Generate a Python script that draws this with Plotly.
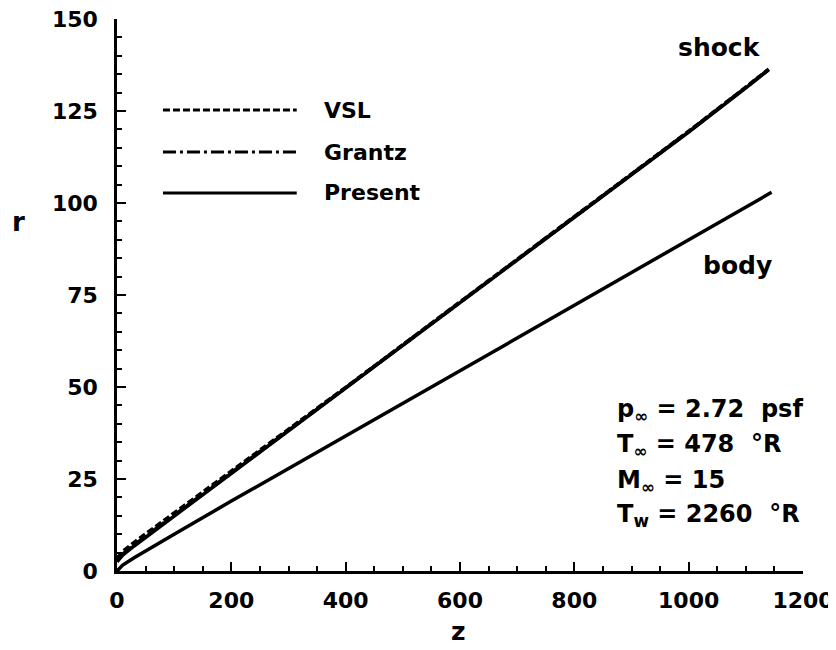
import plotly.graph_objects as go

# ---- data ----
z_shock = [0, 10, 30, 60, 100, 200, 300, 400, 500, 600, 700, 800, 900, 1000, 1100, 1140]
r_shock_present = [2.5, 4.3, 6.8, 10.3, 14.9, 26.5, 38.1, 49.7, 61.3, 72.9, 84.4, 96.0, 107.6, 119.3, 131.3, 136.2]
r_shock_vsl = [3.5, 5.3, 7.8, 11.2, 15.6, 27.0, 38.4, 49.9, 61.5, 73.1, 84.6, 96.2, 107.8, 119.5, 131.5, 136.4]
r_shock_grantz = [2.8, 4.6, 7.1, 10.6, 15.1, 26.7, 38.2, 49.8, 61.4, 73.0, 84.5, 96.1, 107.7, 119.4, 131.4, 136.3]

z_body = [0, 10, 30, 60, 100, 200, 300, 400, 500, 600, 700, 800, 900, 1000, 1100, 1145]
r_body = [0.0, 1.6, 3.6, 6.4, 10.0, 19.0, 27.8, 36.7, 45.5, 54.4, 63.3, 72.2, 81.0, 89.9, 98.8, 102.9]

legend_names = ["VSL", "Grantz", "Present"]
x_ticks = [0, 200, 400, 600, 800, 1000, 1200]
y_ticks = [0, 25, 50, 75, 100, 125, 150]
params = ["p<sub>∞</sub> = 2.72  psf", "T<sub>∞</sub> = 478  °R", "M<sub>∞</sub> = 15", "T<sub>w</sub> = 2260  °R"]

FONT = "DejaVu Sans"
W = 3.5
DASHES = {"VSL": "7px,3px", "Grantz": "13px,4px,3px,4px", "Present": "solid"}

fig = go.Figure()
fig.add_trace(go.Scatter(x=z_body, y=r_body, mode="lines", line=dict(color="black", width=W), showlegend=False))
fig.add_trace(go.Scatter(x=z_shock, y=r_shock_present, mode="lines", line=dict(color="black", width=W), showlegend=False))
fig.add_trace(go.Scatter(x=z_shock, y=r_shock_grantz, mode="lines",
                         line=dict(color="black", width=W, dash=DASHES["Grantz"]), showlegend=False))
fig.add_trace(go.Scatter(x=z_shock, y=r_shock_vsl, mode="lines",
                         line=dict(color="black", width=W, dash=DASHES["VSL"]), showlegend=False))

# manual legend (layout, paper coordinates)
leg_y = [0.835, 0.759, 0.685]
for name, ly in zip(legend_names, leg_y):
    fig.add_shape(type="line", xref="paper", yref="paper", x0=0.067, x1=0.262, y0=ly, y1=ly,
                  line=dict(color="black", width=3, dash=DASHES[name]))
    fig.add_annotation(xref="paper", yref="paper", x=0.299, y=ly, text=name, showarrow=False,
                       xanchor="left", yanchor="middle",
                       font=dict(family=FONT, size=22, color="black", weight="bold"))

fig.add_annotation(xref="paper", yref="paper", x=0.879, y=0.949, text="shock", showarrow=False,
                   xanchor="center", yanchor="middle", font=dict(family=FONT, size=25, color="black", weight="bold"))
fig.add_annotation(xref="paper", yref="paper", x=0.905, y=0.553, text="body", showarrow=False,
                   xanchor="center", yanchor="middle", font=dict(family=FONT, size=25, color="black", weight="bold"))

param_y = [0.290, 0.227, 0.163, 0.100]
for t, py in zip(params, param_y):
    fig.add_annotation(xref="paper", yref="paper", x=0.726, y=py, text=t, showarrow=False,
                       xanchor="left", yanchor="middle",
                       font=dict(family=FONT, size=24, color="black", weight="bold"))

fig.add_annotation(xref="paper", yref="paper", x=-0.144, y=0.632, text="r", showarrow=False,
                   xanchor="center", yanchor="middle", font=dict(family=FONT, size=26, color="black", weight="bold"))
fig.add_annotation(xref="paper", yref="paper", x=0.4985, y=-0.1105, text="z", showarrow=False,
                   xanchor="center", yanchor="middle", font=dict(family=FONT, size=25, color="black", weight="bold"))

axis_common = dict(showline=True, linecolor="black", linewidth=2.5, mirror=False, showgrid=False,
                   zeroline=False, ticks="inside", ticklen=9, tickwidth=2, tickcolor="black",
                   tickfont=dict(family=FONT, size=22, color="black", weight="bold"),
                   automargin=False, ticklabeloverflow="allow")

fig.update_xaxes(range=[0, 1200], tickvals=x_ticks, ticktext=[str(v) for v in x_ticks],
                 minor=dict(dtick=50, ticks="inside", ticklen=5, tickwidth=2, tickcolor="black"),
                 ticklabelstandoff=8, **axis_common)
fig.update_yaxes(range=[0, 150], tickvals=y_ticks, ticktext=[str(v) for v in y_ticks],
                 minor=dict(dtick=5, ticks="inside", ticklen=5, tickwidth=2, tickcolor="black"),
                 ticklabelstandoff=12, **axis_common)

# page body adds an 8px offset, so margins are shifted to land the plot area where the reference has it
fig.update_layout(width=836, height=650, margin=dict(l=109, r=41, t=11, b=87, autoexpand=False),
                  plot_bgcolor="white", paper_bgcolor="white", showlegend=False)

fig.write_html("out.html")
